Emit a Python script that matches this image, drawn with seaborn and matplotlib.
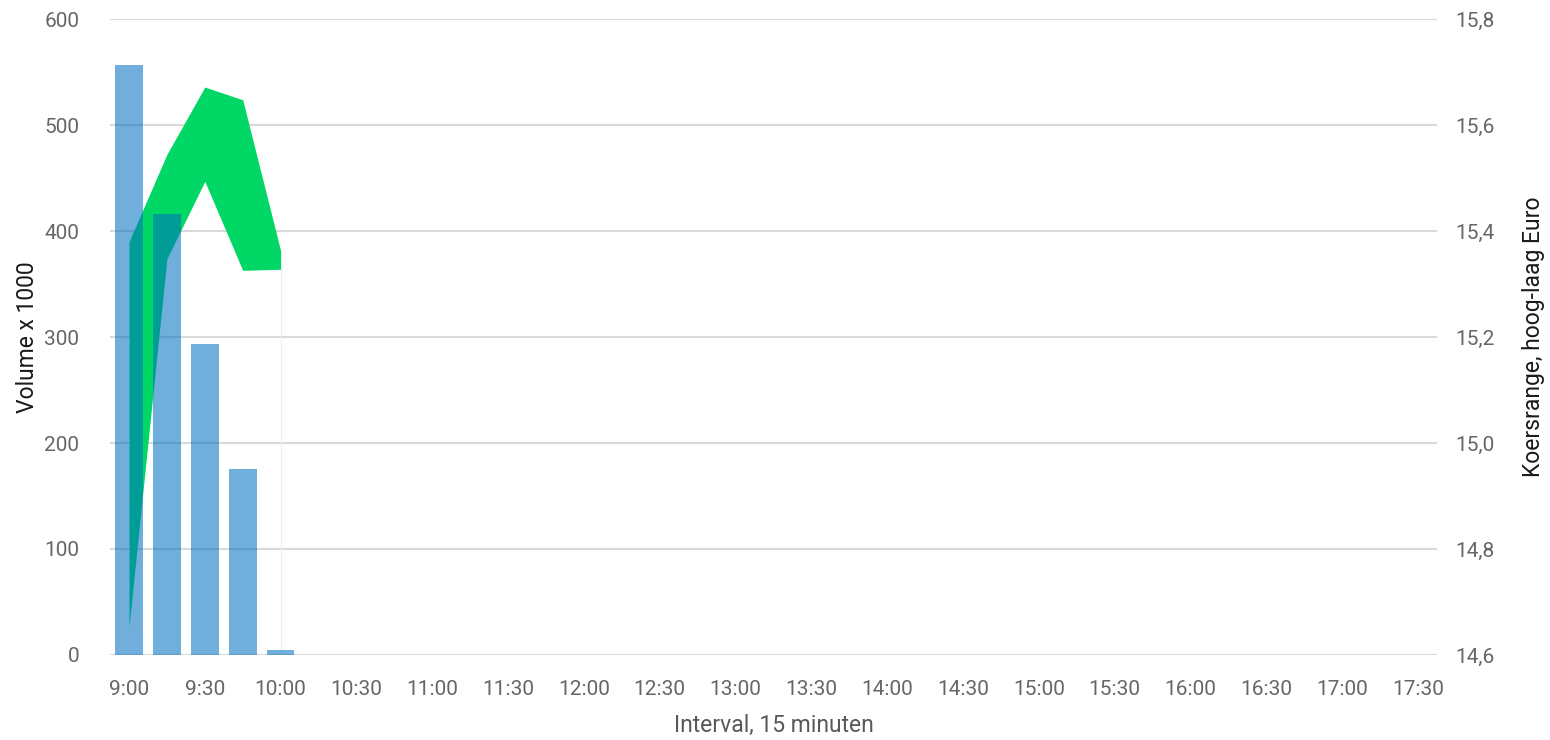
import numpy as np
import pandas as pd
import matplotlib
matplotlib.use('Agg')
import matplotlib.pyplot as plt
import seaborn as sns

# kwartier-intervallen van de handelsdag
intervals = ['9:00', '9:15', '9:30', '9:45', '10:00', '10:15', '10:30', '10:45',
             '11:00', '11:15', '11:30', '11:45', '12:00', '12:15', '12:30', '12:45',
             '13:00', '13:15', '13:30', '13:45', '14:00', '14:15', '14:30', '14:45',
             '15:00', '15:15', '15:30', '15:45', '16:00', '16:15', '16:30', '16:45',
             '17:00', '17:15', '17:30']

# volume x 1000 (alleen eerste kwartieren gevuld)
volume = [557, 416, 293, 175, 5]

# koersrange per kwartier
koers_hoog = [15.38, 15.545, 15.672, 15.648, 15.363]
koers_laag = [14.653, 15.348, 15.494, 15.326, 15.328]

left_ticks = [0, 100, 200, 300, 400, 500, 600]
right_ticks = [14.6, 14.8, 15.0, 15.2, 15.4, 15.6, 15.8]
right_labels = ['14,6', '14,8', '15,0', '15,2', '15,4', '15,6', '15,8']

sns.set_style('white')
plt.rcParams['font.family'] = ['Roboto', 'DejaVu Sans']

df = pd.DataFrame({'interval': intervals[:len(volume)], 'volume': volume})

fig = plt.figure(figsize=(15.5, 7.4), dpi=100)
ax = fig.add_axes([0.071, 0.115, 0.856, 0.859])
ax2 = ax.twinx()

# balken bovenop de groene band
ax.set_zorder(ax2.get_zorder() + 1)
ax.patch.set_visible(False)

sns.barplot(data=df, x='interval', y='volume', order=intervals,
            color='#0070C0', alpha=0.56, saturation=1, width=0.73,
            linewidth=0, ax=ax)

xs = np.arange(len(koers_hoog))
ax2.fill_between(xs, koers_laag, koers_hoog, color='#00D764', linewidth=0, zorder=2)
ax2.vlines(xs[-1], right_ticks[0], koers_laag[-1], color='#dff5ef', linewidth=0.8, zorder=1)

ax.set_xlim(-0.5, len(intervals) - 0.5)
ax.set_ylim(left_ticks[0], left_ticks[-1])
ax2.set_ylim(right_ticks[0], right_ticks[-1])

ax.set_yticks(left_ticks)
ax2.set_yticks(right_ticks)
ax2.set_yticklabels(right_labels)
ax.set_xticks(range(0, len(intervals), 2))
ax.set_xticklabels(intervals[::2])

# rasterlijnen op de achterste as, onder de band
ax.grid(False)
ax2.grid(True, axis='y', color='#d9d9d9', linewidth=1.5)
ax2.set_axisbelow(True)

for a in (ax, ax2):
    for s in a.spines.values():
        s.set_visible(False)
    a.tick_params(length=0, labelsize=15, colors='#666666')
ax.tick_params(axis='y', pad=22)
ax2.tick_params(axis='y', pad=13)
ax.tick_params(axis='x', pad=18)
ax2.axhline(right_ticks[0], color='#d9d9d9', linewidth=1.5, zorder=0)

ax.set_xlabel('Interval, 15 minuten', fontsize=16.5, color='#595959', labelpad=11)
ax.set_ylabel('Volume x 1000', fontsize=16.5, color='#1a1a1a', labelpad=4)
ax2.set_ylabel('Koersrange, hoog-laag Euro', fontsize=16.5, color='#1a1a1a', labelpad=20)

fig.savefig('out.png', dpi=100, facecolor='white')
